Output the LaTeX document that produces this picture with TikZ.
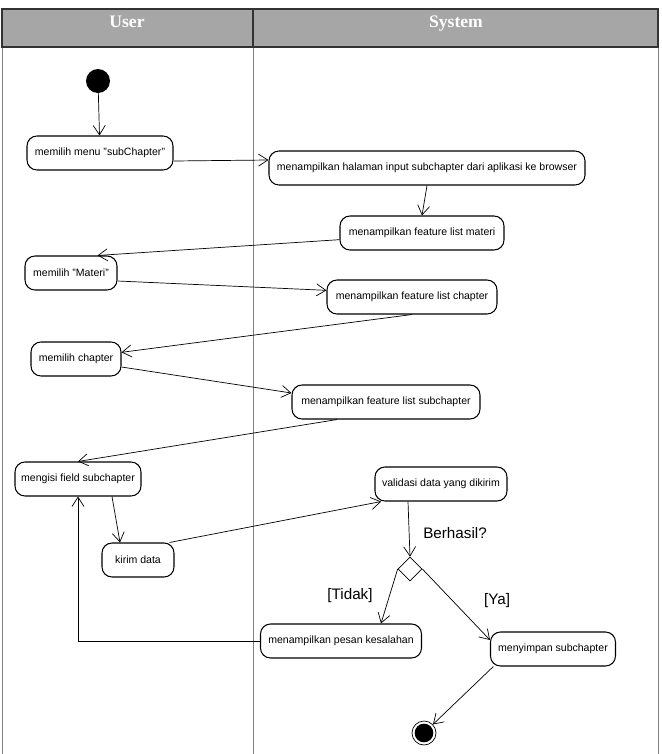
\documentclass[tikz,border=0pt]{standalone}
\usepackage{fontspec}
\setmainfont{Liberation Sans}
\newfontfamily\headfont{Liberation Serif}
\usetikzlibrary{arrows.meta,shapes.geometric}

\begin{document}
\begin{tikzpicture}[x=0.03cm,y=-0.03cm,
  act/.style={draw,rounded corners=0.3cm,line width=0.9pt,minimum height=1.02cm,inner sep=2pt,font=\fontsize{9}{11}\selectfont},
  flow/.style={-{Straight Barb[length=2.8mm,width=3.6mm]},line width=0.6pt},
  guard/.style={font=\fontsize{13}{15}\selectfont},
  lane/.style={font=\headfont\bfseries\fontsize{15}{17}\selectfont,text=white,anchor=base}]
\useasboundingbox (0,0) rectangle (661,754);

% swimlanes
\fill[black!35] (2,9) rectangle (658,47);
\draw[gray,line width=0.8pt] (2,47) -- (2,754);
\draw[gray,line width=0.8pt] (253,47) -- (253,754);
\draw[gray,line width=0.8pt] (658,47) -- (658,754);
\draw[black!80,line width=1.5pt] (2,9) rectangle (658,47);
\draw[black!80,line width=1.5pt] (253,9) -- (253,47);
\node[lane] (user) at (127,27) {User};
\node[lane] (system) at (456,27) {System};

\node[circle,fill=black,minimum size=0.72cm,inner sep=0pt] (s0) at (98,81) {};
\node[act,minimum width=4.38cm] (a1) at (100,153) {memilih menu "subChapter"};
\node[act,minimum width=9.48cm] (b1) at (427,168) {menampilkan halaman input subchapter dari aplikasi ke browser};
\node[act,minimum width=4.92cm] (b2) at (422,233) {menampilkan feature list materi};
\node[act,minimum width=2.76cm] (a2) at (71,273) {memilih "Materi"};
\node[act,minimum width=5.1cm] (b3) at (412,297) {menampilkan feature list chapter};
\node[act,minimum width=2.7cm] (a3) at (76,359) {memilih chapter};
\node[act,minimum width=5.64cm] (b4) at (386,402) {menampilkan feature list subchapter};
\node[act,minimum width=3.78cm] (a4) at (78,479) {mengisi field subchapter};
\node[act,minimum width=3.96cm] (b5) at (441,484) {validasi data yang dikirim};
\node[act,minimum width=2.16cm] (a5) at (138,560) {kirim data};
\node[diamond,draw,line width=0.6pt,minimum width=0.72cm,minimum height=0.72cm,inner sep=0pt] (d) at (410,569) {};
\node[act,minimum width=4.83cm] (b6) at (341,641) {menampilkan pesan kesalahan};
\node[act,minimum width=3.75cm] (b7) at (553,649) {menyimpan subchapter};
\node[circle,draw,line width=0.6pt,minimum size=0.72cm,inner sep=0pt] (e) at (424,733) {};
\fill (e) circle (0.28cm);

\node[guard] (q) at (455,533) {Berhasil?};
\node[guard] (no) at (350,596) {[Tidak]};
\node[guard] (yes) at (497,601) {[Ya]};

\draw[flow] (s0) -- (a1);
\draw[flow] ([yshift=-0.24cm]a1.east) -- ([yshift=0.24cm]b1.west);
\draw[flow] (b1.south) -- (b2.north);
\draw[flow] ([yshift=-0.2cm]b2.west) -- ([xshift=-0.6cm]a2.north east);
\draw[flow] ([yshift=-0.24cm]a2.east) -- ([yshift=0.2cm]b3.west);
\draw[flow] (b3.south) -- ([yshift=0.2cm]a3.east);
\draw[flow] ([yshift=-0.24cm]a3.east) -- ([yshift=0.27cm]b4.west);
\draw[flow] ([xshift=-1.47cm]b4.south) -- (a4.north);
\draw[flow] ([xshift=1.02cm]a4.south) -- ([xshift=-0.54cm]a5.north);
\draw[flow] ([xshift=-0.15cm]a5.north east) -- ([xshift=0.2cm]b5.south west);
\draw[flow] ([xshift=-0.99cm]b5.south) -- (d.north);
\draw[flow] (d.west) -- ([xshift=1.2cm]b6.north);
\draw[flow] (d.east) -- ([yshift=0.27cm]b7.west);
\draw[flow] (b6.west) -| (a4.south);
\draw[flow] ([xshift=0.1cm]b7.south west) -- (e);
\end{tikzpicture}
\end{document}
